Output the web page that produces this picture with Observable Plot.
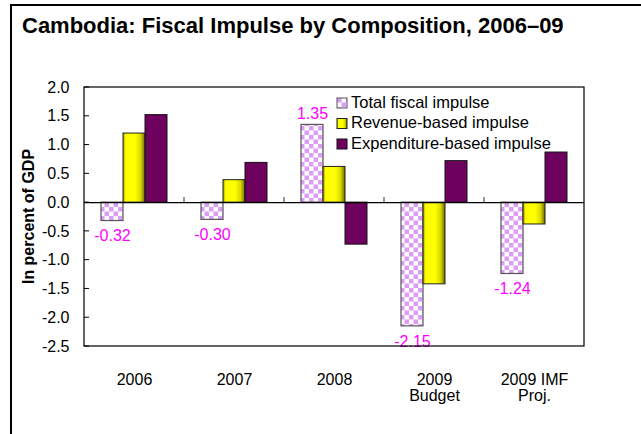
<!DOCTYPE html>
<html><head><meta charset="utf-8">
<script src="https://cdn.jsdelivr.net/npm/d3@7"></script>
<script src="https://cdn.jsdelivr.net/npm/@observablehq/plot@0.6"></script>
<style>
body{margin:0;background:#fff;font-family:"Liberation Sans",Arial,sans-serif}
#wrap{position:relative;width:641px;height:434px;overflow:hidden;background:#fff}
#frame{position:absolute;left:10px;top:4px;width:700px;height:500px;border-top:2px solid #000;border-left:2px solid #000}
#title{position:absolute;left:22px;top:13px;font-weight:bold;font-size:22px;color:#000;white-space:nowrap}
#chart{position:absolute;left:0;top:0}
</style></head><body>
<div id="wrap"><div id="frame"></div><div id="chart"></div><div id="title">Cambodia: Fiscal Impulse by Composition, 2006–09</div></div>
<script>
const categories = ["2006", "2007", "2008", "2009\nBudget", "2009 IMF\nProj."];
const series = ["Total fiscal impulse", "Revenue-based impulse", "Expenditure-based impulse"];
const total = [-0.32, -0.30, 1.35, -2.15, -1.24];
const revenue = [1.20, 0.39, 0.62, -1.42, -0.38];
const expenditure = [1.52, 0.69, -0.73, 0.72, 0.87];
const yTicks = [2.0, 1.5, 1.0, 0.5, 0.0, -0.5, -1.0, -1.5, -2.0, -2.5];

const seriesValues = [total, revenue, expenditure];
const rows = [];
series.forEach((s, si) => categories.forEach((c, ci) => rows.push({cat: c, series: s, value: seriesValues[si][ci]})));
const byS = s => rows.filter(d => d.series === s);
const totRows = byS(series[0]);

const W = 641, H = 434, ML = 83, MR = 57, MT = 87, MB = 88;
const font = "Liberation Sans, Arial, sans-serif";

const chart = Plot.plot({
  width: W, height: H,
  marginLeft: ML, marginRight: MR, marginTop: MT, marginBottom: MB,
  style: {fontFamily: font, fontSize: "16px", color: "#000", background: "transparent", overflow: "visible"},
  fx: {domain: categories, padding: 0},
  x: {domain: series, paddingInner: 0, paddingOuter: 0.72, axis: null},
  y: {domain: [-2.5, 2.0]},
  marks: [
    Plot.barY(byS(series[0]), {fx: "cat", x: "series", y: "value", fill: "url(#checker)", stroke: "#555", strokeWidth: 1.2}),
    Plot.barY(byS(series[1]), {fx: "cat", x: "series", y: "value", fill: "url(#ygrad)", stroke: "#222", strokeWidth: 1}),
    Plot.barY(byS(series[2]), {fx: "cat", x: "series", y: "value", fill: "#6e005e", stroke: "#111", strokeWidth: 1}),
    Plot.ruleY([0], {stroke: "#000", strokeWidth: 1.2}),
    Plot.text(totRows.filter(d => d.value >= 0), {fx: "cat", x: "series", y: "value", text: d => d.value.toFixed(2), lineAnchor: "bottom", dy: -6, fill: "#ff00ff", fontSize: 16}),
    Plot.text(totRows.filter(d => d.value < 0), {fx: "cat", x: "series", y: "value", text: d => d.value.toFixed(2), lineAnchor: "top", dy: 9, fill: "#ff00ff", fontSize: 16}),
    Plot.axisY({ticks: yTicks, tickFormat: d => d.toFixed(1), tickSize: 0, tickPadding: 15, fontSize: 16, label: null}),
    Plot.axisFx({anchor: "bottom", tickSize: 0, tickPadding: 27, fontSize: 16, label: null, lineHeight: 1.0})
  ]
});
document.getElementById("chart").appendChild(chart);

const svg = d3.select(chart);
const defs = svg.insert("defs", ":first-child");
const pat = defs.append("pattern").attr("id", "checker").attr("patternUnits", "userSpaceOnUse").attr("width", 9).attr("height", 9);
pat.append("rect").attr("width", 9).attr("height", 9).attr("fill", "#fff");
pat.append("rect").attr("width", 4.5).attr("height", 4.5).attr("fill", "#dd9cf7");
pat.append("rect").attr("x", 4.5).attr("y", 4.5).attr("width", 4.5).attr("height", 4.5).attr("fill", "#dd9cf7");
const g = defs.append("linearGradient").attr("id", "ygrad").attr("x1", 0).attr("x2", 1).attr("y1", 0).attr("y2", 0);
[[0, "#9a9a00"], [0.12, "#ffff00"], [0.55, "#ffff00"], [0.8, "#d8d800"], [1, "#6a6a00"]].forEach(([o, c]) => g.append("stop").attr("offset", o).attr("stop-color", c));

const fxS = chart.scale("fx"), yS = chart.scale("y");
const y0 = yS.apply(0);
const pTop = yS.apply(2.0), pBot = yS.apply(-2.5);
const pLeft = fxS.apply(categories[0]);
const pRight = fxS.apply(categories[categories.length - 1]) + fxS.bandwidth;
// plot frame
svg.append("rect").attr("x", pLeft).attr("y", pTop).attr("width", pRight - pLeft).attr("height", pBot - pTop)
  .attr("fill", "none").attr("stroke", "#000").attr("stroke-width", 1.2);
// inward y ticks
svg.append("g").selectAll("line").data(yTicks).join("line")
  .attr("x1", pLeft).attr("x2", pLeft + 5).attr("y1", d => yS.apply(d)).attr("y2", d => yS.apply(d))
  .attr("stroke", "#000").attr("stroke-width", 1);
// category boundary ticks on zero line
svg.append("g").selectAll("line").data(categories.slice(1)).join("line")
  .attr("x1", d => fxS.apply(d)).attr("x2", d => fxS.apply(d)).attr("y1", y0 - 5).attr("y2", y0)
  .attr("stroke", "#555").attr("stroke-width", 1.2);
// y-axis title
svg.append("text").attr("transform", `translate(30,${(pTop + pBot) / 2}) rotate(-90)`)
  .attr("text-anchor", "middle").attr("dominant-baseline", "middle")
  .attr("font-weight", "bold").attr("font-size", 16).attr("font-family", font).text("In percent of GDP");
// legend
const fills = ["url(#checker)", "url(#ygrad)", "#6e005e"];
const strokes = ["#555", "#222", "#111"];
const lg = svg.append("g").attr("transform", "translate(337,98)");
series.forEach((s, i) => {
  const r = lg.append("g").attr("transform", `translate(0,${i * 20.5})`);
  r.append("rect").attr("width", 10).attr("height", 10).attr("fill", fills[i]).attr("stroke", strokes[i]).attr("stroke-width", 1);
  r.append("text").attr("x", 14).attr("y", 5.5).attr("dominant-baseline", "middle").attr("text-anchor", "start")
    .attr("font-size", 16.5).attr("font-family", font).text(s);
});
</script>
</body></html>
